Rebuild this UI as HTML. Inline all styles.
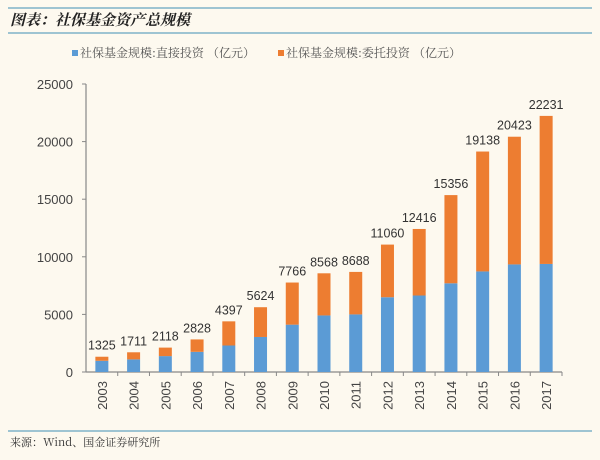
<!DOCTYPE html>
<html><head><meta charset="utf-8"><style>
html,body{margin:0;padding:0;background:#fdf9ef;}
body{width:600px;height:455px;overflow:hidden;font-family:"Liberation Sans","Noto Sans CJK SC",sans-serif;}
</style></head><body>
<svg width="600" height="455" xmlns="http://www.w3.org/2000/svg">
<rect width="600" height="455" fill="#fdf9ef"/>
<line x1="8" y1="8" x2="592" y2="8" stroke="#7fb3c8" stroke-width="1.5"/>
<text x="10" y="25" font-size="15" font-weight="bold" font-style="italic" fill="#222" font-family="'Noto Serif CJK SC','Noto Sans CJK SC',sans-serif">图表：社保基金资产总规模</text>
<line x1="8" y1="33" x2="592" y2="33" stroke="#7fb3c8" stroke-width="1.5"/>
<g font-size="12" fill="#555" font-family="'Noto Serif CJK SC','Noto Sans CJK SC',sans-serif">
<g><rect x="72" y="50" width="6" height="6" fill="#5b9bd5"/><text x="80" y="57">社保基金规模:直接投资 （亿元）</text></g>
<g><rect x="278" y="50" width="6" height="6" fill="#ed7d31"/><text x="286" y="57">社保基金规模:委托投资 （亿元）</text></g>
</g>
<g id="plot"></g>
<line x1="8" y1="431" x2="592" y2="431" stroke="#7fb3c8" stroke-width="1.5"/>
<text x="10" y="446" font-size="11" fill="#333" font-family="'Noto Serif CJK SC','Noto Sans CJK SC',sans-serif">来源：Wind、国金证券研究所</text>
</svg>
<script>
const years=["2003","2004","2005","2006","2007","2008","2009","2010","2011","2012","2013","2014","2015","2016","2017"];
const totals=[1325,1711,2118,2828,4397,5624,7766,8568,8688,11060,12416,15356,19138,20423,22231];
const direct=[975,1095,1380,1750,2300,3040,4110,4910,5000,6490,6640,7700,8730,9340,9380];
const yTicks=[0,5000,10000,15000,20000,25000];
const NS="http://www.w3.org/2000/svg";
const g=document.getElementById('plot');
const x0=86,x1=562,y0=372,yTop=84,yMax=25000;
const slot=(x1-x0)/years.length,bw=13;
const ys=v=>y0-(v/yMax)*(y0-yTop);
const xc=i=>x0+slot*(i+0.5);
function mk(t,a){const e=document.createElementNS(NS,t);for(const k in a)e.setAttribute(k,a[k]);g.appendChild(e);return e;}
const ax=mk('line',{x1:x0,y1:yTop,x2:x0,y2:y0,stroke:'#888','stroke-width':1.2});


const bx=mk('line',{x1:x0,y1:y0,x2:x1,y2:y0,stroke:'#888','stroke-width':1.2});


yTicks.forEach(v=>{
 const tk=mk('line',{x1:x0-4,y1:ys(v),x2:x0,y2:ys(v),stroke:'#888'});
 
 
 const t=mk('text',{x:x0-13,y:ys(v)+5,'text-anchor':'end','font-size':13,fill:'#444'});
 t.textContent=v;
 
 
});
years.forEach((y,i)=>{
 const c=xc(i);
 const tk=mk('line',{x1:x0+slot*(i+1),y1:y0,x2:x0+slot*(i+1),y2:y0+4,stroke:'#888'});
 
 
 const b1=mk('rect',{x:c-bw/2,y:ys(direct[i]),width:bw,height:y0-ys(direct[i]),fill:'#5b9bd5'});
 
 
 const b2=mk('rect',{x:c-bw/2,y:ys(totals[i]),width:bw,height:ys(direct[i])-ys(totals[i]),fill:'#ed7d31'});
 
 
 const lb=mk('text',{x:c,y:ys(totals[i])-7,'text-anchor':'middle','font-size':12.5,fill:'#333'});
 lb.textContent=totals[i];
 
 
 const xl=mk('text',{x:0,y:0,'text-anchor':'end','font-size':13,fill:'#444',transform:`translate(${c+5},${y0+9}) rotate(-90)`});
 xl.textContent=y;
 
 
});
</script>
</body></html>
